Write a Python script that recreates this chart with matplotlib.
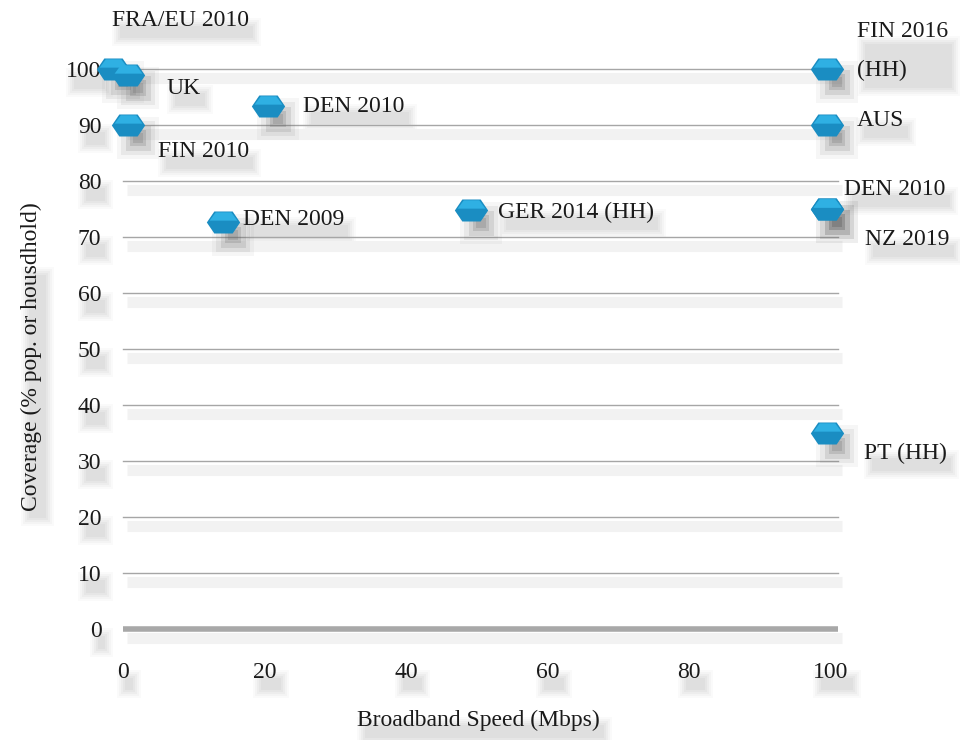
import matplotlib
matplotlib.use("Agg")
import matplotlib.pyplot as plt
from matplotlib.path import Path
from matplotlib.patches import Rectangle
from matplotlib.transforms import offset_copy, IdentityTransform

plt.rcParams["font.family"] = ["Liberation Serif", "DejaVu Serif"]

# broadband targets: speed (Mbps) vs coverage (%)
labels = ["FRA/EU 2010", "UK", "DEN 2010", "FIN 2010", "FIN 2016\n(HH)", "AUS",
          "DEN 2010", "NZ 2019", "DEN 2009", "GER 2014 (HH)", "PT (HH)"]
speed = [-1.4, 0.6, 20.5, 0.6, 99.5, 99.5, 99.5, 99.5, 14.1, 49.2, 99.5]
coverage = [100, 99, 93.4, 90, 100, 90, 75, 75, 72.7, 74.8, 35]
# label offsets in pixels (left edge, vertical centre) from each marker
label_dx = [-1, 39, 35, 30, 30, 29, 17, 38, 20, 27, 37]
label_dy = [48, -14, -1, -27, 18, 4, 19, -31, 2, -2, -20]

yticks = list(range(0, 101, 10))
xticks = list(range(0, 101, 20))

FS = 17
INK = "#1a1a1a"

fig = plt.figure(figsize=(9.6, 7.4), dpi=100)
ax = fig.add_axes([0.11, 0.1273, 0.785, 0.8249])
ax.patch.set_visible(False)
ax.set_xlim(-2.5, 104)
ax.set_ylim(-3, 106)
for s in ax.spines.values():
    s.set_visible(False)

# gridlines with a soft band underneath
band = offset_copy(ax.transData, fig=fig, x=4, y=-9, units="dots")
for v in yticks:
    ax.plot([0, 101], [v, v], color="#f2f2f2", lw=8, transform=band,
            solid_capstyle="butt", zorder=0)
    if v == 0:
        ax.plot([0, 101], [v, v], color="#a8a8a8", lw=4, zorder=1,
                solid_capstyle="butt")
    else:
        ax.plot([0, 101], [v, v], color="#a6a6a6", lw=1, zorder=1)

ax.set_xticks(xticks)
ax.set_yticks(yticks)
ax.tick_params(length=0, labelsize=FS, colors=INK)
ax.tick_params(axis="x", pad=12)
ax.tick_params(axis="y", pad=3)

# flattened hexagonal "gem" marker
gem = Path([(-1, 0), (-0.55, 0.66), (0.55, 0.66), (1, 0), (0.55, -0.66), (-0.55, -0.66), (-1, 0)],
           [Path.MOVETO] + [Path.LINETO] * 5 + [Path.CLOSEPOLY])
top = Path([(-0.9, 0.12), (-0.5, 0.66), (0.5, 0.66), (0.9, 0.12), (-0.9, 0.12)],
           [Path.MOVETO] + [Path.LINETO] * 3 + [Path.CLOSEPOLY])

mshadow = offset_copy(ax.transData, fig=fig, x=10, y=-13, units="dots")
for size, alpha in [(30, 0.05), (24, 0.09), (18, 0.15), (12, 0.2), (7, 0.2)]:
    ax.scatter(speed, coverage, s=size ** 2, marker="s", color="#606060", alpha=alpha,
               lw=0, transform=mshadow, zorder=3, clip_on=False)
ax.scatter(speed, coverage, s=24 ** 2, marker=gem, color="#1a8dc2", lw=0, zorder=4, clip_on=False)
ax.scatter(speed, coverage, s=20 ** 2, marker=top, color="#2fb0e3", lw=0, zorder=5, clip_on=False)

texts = []
for lab, x, y, dx, dy in zip(labels, speed, coverage, label_dx, label_dy):
    t = ax.annotate(lab, (x, y), xytext=(dx, dy), textcoords="offset pixels",
                    fontsize=FS, color=INK, ha="left", va="center", linespacing=2.1,
                    zorder=6, annotation_clip=False)
    texts.append(t)

ax.set_xlabel("Broadband Speed (Mbps)", fontsize=FS, color=INK)
ax.set_ylabel("Coverage (% pop. or housdhold)", fontsize=FS, color=INK)
ax.xaxis.set_label_coords(0.495, -0.105)
ax.yaxis.set_label_coords(-0.084, 0.473)

# soft grey drop shadows behind every text
fig.canvas.draw()
r = fig.canvas.get_renderer()
shadowed = texts + ax.get_xticklabels() + ax.get_yticklabels() + [ax.xaxis.label, ax.yaxis.label]
for t in shadowed:
    bb = t.get_window_extent(r)
    x0, y0, w, h = bb.x0, bb.y0, bb.width, bb.height
    for grow, alpha in [(6, 0.04), (4, 0.05), (2, 0.06), (0, 0.07), (-2, 0.07)]:
        fig.add_artist(Rectangle((x0 + 6 - grow, y0 - 9 - grow), w + 2 * grow, h * 0.8 + 2 * grow,
                                 transform=IdentityTransform(), color="#8a8a8a",
                                 alpha=alpha, lw=0, zorder=-1))

fig.savefig("out.png", dpi=100, facecolor="white")
